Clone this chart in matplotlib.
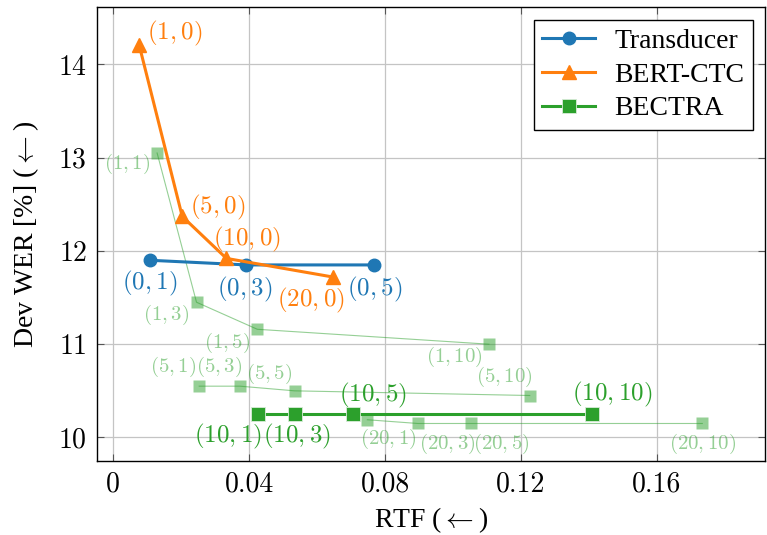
import matplotlib
matplotlib.use("Agg")
import matplotlib.pyplot as plt

plt.rcParams["font.family"] = ["cmr10", "DejaVu Serif"]
plt.rcParams["mathtext.fontset"] = "cm"
plt.rcParams["axes.formatter.use_mathtext"] = True

# --- data (RTF, Dev WER) ---
trans_rtf = [0.0108, 0.0392, 0.0768]
trans_wer = [11.90, 11.85, 11.85]
trans_lbl = ["(0,1)", "(0,3)", "(0,5)"]

bert_rtf = [0.0076, 0.0203, 0.0333, 0.0647]
bert_wer = [14.21, 12.37, 11.92, 11.72]
bert_lbl = ["(1,0)", "(5,0)", "(10,0)", "(20,0)"]

bectra_rtf = [0.0426, 0.0534, 0.0706, 0.1409]
bectra_wer = [10.25, 10.25, 10.25, 10.25]
bectra_lbl = ["(10,1)", "(10,3)", "(10,5)", "(10,10)"]

# other BECTRA settings (faint)
b1_rtf = [0.0129, 0.0245, 0.0424, 0.1106]
b1_wer = [13.05, 11.45, 11.16, 11.00]
b1_lbl = ["(1,1)", "(1,3)", "(1,5)", "(1,10)"]
b5_rtf = [0.0253, 0.0373, 0.0534, 0.1226]
b5_wer = [10.55, 10.55, 10.50, 10.45]
b5_lbl = ["(5,1)", "(5,3)", "(5,5)", "(5,10)"]
b20_rtf = [0.0748, 0.0897, 0.1052, 0.1734]
b20_wer = [10.19, 10.15, 10.15, 10.15]
b20_lbl = ["(20,1)", "(20,3)", "(20,5)", "(20,10)"]

x_ticks = [0, 0.04, 0.08, 0.12, 0.16]
x_tick_lbl = ["0", "0.04", "0.08", "0.12", "0.16"]
y_ticks = [10, 11, 12, 13, 14]

BLUE, ORANGE, GREEN = "#1f77b4", "#ff7f0e", "#2ca02c"
TIMES = {"family": "Liberation Serif", "size": 20}

fig = plt.figure(figsize=(7.67, 5.35), dpi=100)
ax = fig.add_axes([0.126, 0.138, 0.872, 0.848])

# faint lines first
for xs, ys in [(b1_rtf, b1_wer), (b5_rtf, b5_wer), (b20_rtf, b20_wer)]:
    ax.plot(xs, ys, color=GREEN, alpha=0.5, lw=0.8, marker="s", ms=8.5,
            mec="none", zorder=2)

ax.plot(trans_rtf, trans_wer, color=BLUE, lw=2.2, marker="o", ms=9,
        label="Transducer", zorder=4)
ax.plot(bert_rtf, bert_wer, color=ORANGE, lw=2.2, marker="^", ms=10,
        label="BERT-CTC", zorder=5)
ax.plot(bectra_rtf, bectra_wer, color=GREEN, lw=2.2, marker="s", ms=9.5,
        mec="#d8ecd8", mew=0.6, label="BECTRA", zorder=3)

def put(xs, ys, labels, offs, color, alpha=1.0, fs=18):
    for x, y, t, (dx, dy) in zip(xs, ys, labels, offs):
        ax.annotate("$" + t + "$", (x, y), xytext=(dx, dy),
                    textcoords="offset pixels", ha="center", va="center",
                    color=color, alpha=alpha, fontsize=fs, zorder=6)

put(trans_rtf, trans_wer, trans_lbl, [(0, -23), (-2, -25), (0, -25)], BLUE)
put(bert_rtf, bert_wer, bert_lbl, [(36, 11), (35, 9), (20, 19), (-22, -23)], ORANGE)
put(bectra_rtf, bectra_wer, bectra_lbl, [(-30, -22), (2, -22), (20, 19), (20, 20)], GREEN)
put(b1_rtf, b1_wer, b1_lbl, [(-30, -11), (-30, -13), (-30, -14), (-35, -13)], GREEN, 0.5, 15)
put(b5_rtf, b5_wer, b5_lbl, [(-26, 19), (-21, 19), (-25, 17), (-25, 19)], GREEN, 0.5, 15)
put(b20_rtf, b20_wer, b20_lbl, [(21, -19), (29, -20), (31, -20), (0, -20)], GREEN, 0.5, 15)

ax.set_xlim(-0.0049, 0.192)
ax.set_ylim(9.746, 14.61)
ax.set_xticks(x_ticks)
ax.set_xticklabels(x_tick_lbl)
ax.set_yticks(y_ticks)
ax.tick_params(direction="in", top=True, right=True, length=5, labelsize=20,
               color="#555555", pad=7)
ax.grid(True, color="#c4c4c4", lw=0.9)
ax.set_axisbelow(True)
for s in ax.spines.values():
    s.set_linewidth(1.0)

ax.set_xlabel(r"RTF ($\leftarrow$)", fontdict=TIMES, labelpad=6)
ax.set_ylabel(r"Dev WER [%] ($\leftarrow$)", fontdict=TIMES, labelpad=12)

leg = ax.legend(loc="upper right", fancybox=False, prop=TIMES,
                edgecolor="black", framealpha=1, borderaxespad=0.45,
                borderpad=0.3, handlelength=1.9, handletextpad=0.7,
                labelspacing=0.3)
leg.get_frame().set_linewidth(1.0)

fig.savefig("out.png", dpi=100)
